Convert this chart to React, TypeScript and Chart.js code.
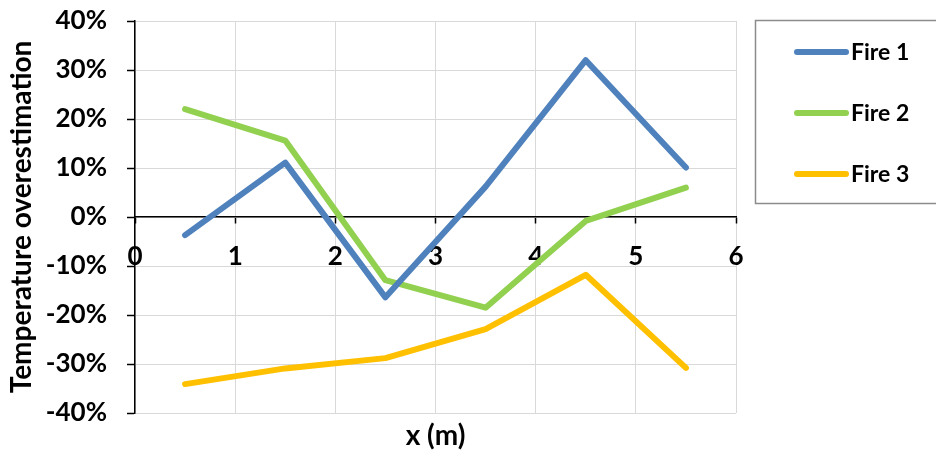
import React, { useEffect, useRef } from "react";
import { Chart, registerables } from "chart.js";

Chart.register(...registerables);

// Measurement positions along the room (m)
const positions = [0.5, 1.5, 2.5, 3.5, 4.5, 5.5];

// Temperature overestimation per fire scenario (%)
const fire1 = [-3.7, 11.1, -16.4, 6.2, 32.0, 10.1];
const fire2 = [22.0, 15.6, -12.9, -18.5, -0.8, 6.0];
const fire3 = [-34.1, -30.9, -28.8, -22.9, -11.8, -30.8];

const seriesNames = ["Fire 1", "Fire 2", "Fire 3"];
const seriesColors = ["#4F81BD", "#92D050", "#FFC000"];

const FONT = "Lato, 'Open Sans', sans-serif";

const toPoints = (vals: number[]) => vals.map((v, i) => ({ x: positions[i], y: v }));

// Framed legend drawn to the right of the plot area
const boxedLegend = {
  id: "boxedLegend",
  afterDraw(chart: any) {
    const ctx = chart.ctx as CanvasRenderingContext2D;
    const left = 755.5;
    const top = 20.5;
    ctx.save();
    ctx.strokeStyle = "#8c8c8c";
    ctx.lineWidth = 1.5;
    ctx.strokeRect(left, top, 185, 183);
    chart.data.datasets.forEach((ds: any, i: number) => {
      const y = 52 + i * 61;
      ctx.strokeStyle = ds.borderColor;
      ctx.lineWidth = 6;
      ctx.lineCap = "round";
      ctx.beginPath();
      ctx.moveTo(797, y);
      ctx.lineTo(846, y);
      ctx.stroke();
      ctx.fillStyle = "#000";
      ctx.font = `bold 23px ${FONT}`;
      ctx.textBaseline = "middle";
      ctx.textAlign = "left";
      ctx.fillText(ds.label, 851, y + 1);
    });
    ctx.restore();
  },
};

export default function App() {
  const canvasRef = useRef<HTMLCanvasElement | null>(null);

  useEffect(() => {
    if (!canvasRef.current) return;
    const seriesData = [fire1, fire2, fire3];
    const chart = new Chart(canvasRef.current, {
      type: "line",
      data: {
        datasets: seriesData.map((vals, i) => ({
          label: seriesNames[i],
          data: toPoints(vals),
          borderColor: seriesColors[i],
          backgroundColor: seriesColors[i],
          borderWidth: 6,
          borderCapStyle: "round",
          borderJoinStyle: "round",
          pointRadius: 0,
          tension: 0,
          xAxisID: "x",
          yAxisID: "y",
        })),
      },
      options: {
        animation: false,
        responsive: true,
        maintainAspectRatio: false,
        layout: { padding: { left: 0, top: 21, right: 200, bottom: 0 } },
        plugins: { legend: { display: false }, tooltip: { enabled: false } },
        scales: {
          x: {
            type: "linear",
            position: "bottom",
            min: 0,
            max: 6,
            ticks: { stepSize: 1, display: false },
            grid: { color: "#d9d9d9", lineWidth: 1, drawTicks: false },
            border: { display: false },
            title: {
              display: true,
              text: "x (m)",
              color: "#000",
              font: { family: FONT, size: 28, weight: "bold" },
              padding: { top: 0, bottom: 0 },
            },
            afterFit: (scale: any) => {
              scale.height = 40;
              scale.paddingLeft = 0;
              scale.paddingRight = 0;
            },
          },
          x2: {
            type: "linear",
            position: { y: 0 },
            min: 0,
            max: 6,
            ticks: {
              stepSize: 1,
              color: "#000",
              padding: 18,
              font: { family: FONT, size: 26, weight: "bold" },
              maxRotation: 0,
              autoSkip: false,
            },
            grid: {
              display: true,
              drawOnChartArea: false,
              drawTicks: true,
              tickLength: 6,
              tickColor: "#000",
              tickWidth: 1.5,
            },
            border: { display: true, color: "#000", width: 1.5 },
            afterFit: (scale: any) => {
              scale.paddingLeft = 0;
              scale.paddingRight = 0;
              scale.paddingTop = 0;
              scale.paddingBottom = 0;
            },
          },
          y: {
            type: "linear",
            position: "left",
            min: -40,
            max: 40,
            ticks: {
              stepSize: 10,
              color: "#000",
              padding: 20,
              font: { family: FONT, size: 26, weight: "bold" },
              callback: (v: any) => `${v}%`,
            },
            grid: {
              color: "#d9d9d9",
              lineWidth: 1,
              drawTicks: true,
              tickLength: 8,
              tickColor: "#000",
              tickWidth: 1.5,
            },
            border: { display: true, color: "#000", width: 1.5 },
            title: {
              display: true,
              text: "Temperature overestimation",
              color: "#000",
              font: { family: FONT, size: 28, weight: "bold" },
              padding: { top: 5, bottom: 0 },
            },
            afterFit: (scale: any) => {
              scale.width = 135;
              scale.paddingTop = 0;
              scale.paddingBottom = 0;
            },
          },
        },
      },
      plugins: [boxedLegend],
    } as any);
    return () => chart.destroy();
  }, []);

  return (
    <div style={{ position: "fixed", left: 0, top: 0, width: 936, height: 453, background: "#fff" }}>
      <canvas ref={canvasRef} />
    </div>
  );
}
